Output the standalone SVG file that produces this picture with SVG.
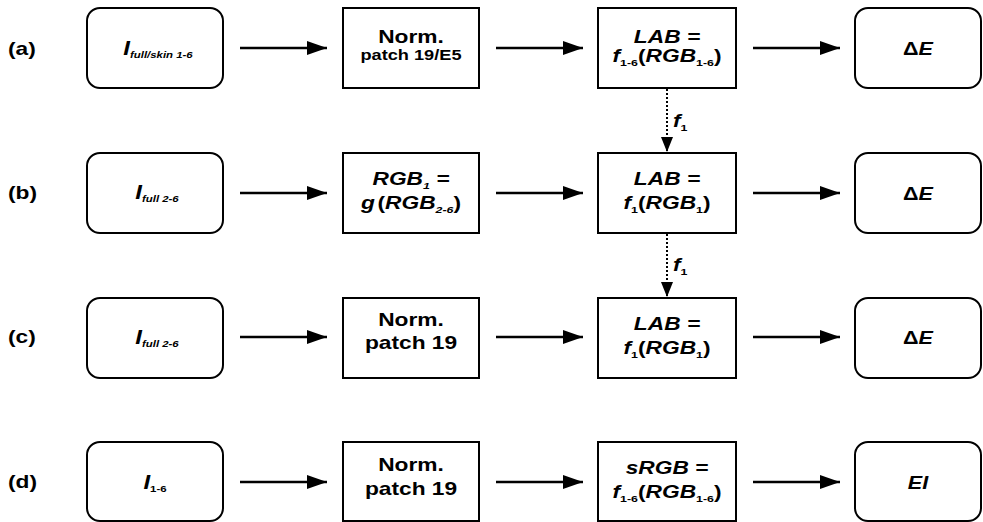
<svg xmlns="http://www.w3.org/2000/svg" width="983" height="522" viewBox="0 0 983 522">
  <defs>
    <marker id="arrow" markerWidth="20" markerHeight="14" refX="20" refY="7" orient="auto" markerUnits="userSpaceOnUse">
      <path d="M0,0 L20,7 L0,14 Z" fill="#000"/>
    </marker>
    <marker id="arrow-small" markerWidth="12" markerHeight="15" refX="6" refY="15" orient="0" markerUnits="userSpaceOnUse">
      <path d="M0,0 L6,15 L12,0 Z" fill="#000"/>
    </marker>
  </defs>
  <style>
    .box { fill: #fff; stroke: #000; stroke-width: 2; }
    .txt { font-family: "Liberation Sans", Arial, sans-serif; font-weight: bold; fill: #000; }
    .lbl { font-size: 17.5px; }
    .main { font-size: 17.5px; text-anchor: middle; }
    .small { font-size: 14px; }
    .big { font-size: 18px; }
    .cap { font-size: 20px; }
    .it { font-style: italic; }
    .up { font-style: normal; }
    .sub { font-size: 9.5px; }
    .flow { stroke: #000; stroke-width: 2.5; fill: none; marker-end: url(#arrow); }
    .dot { stroke: #000; stroke-width: 2; stroke-dasharray: 2 2; fill: none; marker-end: url(#arrow-small); }
  </style>
  <rect width="983" height="522" fill="#fff"/>

  <!-- row labels -->
  <g id="labels" class="txt lbl">
    <text transform="translate(8 0) scale(1.3 1)" x="0" y="55">(a)</text>
    <text transform="translate(8 0) scale(1.3 1)" x="0" y="199">(b)</text>
    <text transform="translate(8 0) scale(1.3 1)" x="0" y="343">(c)</text>
    <text transform="translate(8 0) scale(1.3 1)" x="0" y="488">(d)</text>
  </g>

  <!-- connectors -->
  <g id="connectors">
    <line class="flow" x1="240" y1="48" x2="327" y2="48"/>
    <line class="flow" x1="496" y1="48" x2="583" y2="48"/>
    <line class="flow" x1="753" y1="48" x2="840" y2="48"/>

    <line class="flow" x1="240" y1="193" x2="327" y2="193"/>
    <line class="flow" x1="496" y1="193" x2="583" y2="193"/>
    <line class="flow" x1="753" y1="193" x2="840" y2="193"/>

    <line class="flow" x1="240" y1="337" x2="327" y2="337"/>
    <line class="flow" x1="496" y1="337" x2="583" y2="337"/>
    <line class="flow" x1="753" y1="337" x2="840" y2="337"/>

    <line class="flow" x1="240" y1="482" x2="327" y2="482"/>
    <line class="flow" x1="496" y1="482" x2="583" y2="482"/>
    <line class="flow" x1="753" y1="482" x2="840" y2="482"/>

    <line class="dot" x1="667" y1="89" x2="667" y2="152"/>
    <line class="dot" x1="667" y1="234" x2="667" y2="297"/>
    <text class="txt lbl it" transform="translate(673 0) scale(1.3 1)" x="0" y="127">f<tspan class="sub up" dy="4">1</tspan></text>
    <text class="txt lbl it" transform="translate(673 0) scale(1.3 1)" x="0" y="271">f<tspan class="sub up" dy="4">1</tspan></text>
  </g>

  <!-- row (a) -->
  <g id="a-input">
    <rect class="box" x="87" y="8" width="136" height="80" rx="13"/>
    <text class="txt main" transform="translate(158 0) scale(1.2 1)" x="0" y="55"><tspan class="it cap">I</tspan><tspan class="sub it" dy="3">full/skin 1-6</tspan></text>
  </g>
  <g id="a-norm">
    <rect class="box" x="343" y="8" width="136" height="80"/>
    <text class="txt main" transform="translate(411 0) scale(1.3 1)" x="0" y="43">Norm.</text>
    <text class="txt main small" transform="translate(411 0) scale(1.3 1)" x="0" y="60">patch 19/E5</text>
  </g>
  <g id="a-lab">
    <rect class="box" x="598" y="8" width="138" height="80"/>
    <text class="txt main it" transform="translate(667 0) scale(1.3 1)" x="0" y="43">LAB =</text>
    <text class="txt main" transform="translate(667 0) scale(1.3 1)" x="0" y="62"><tspan class="it">f</tspan><tspan class="sub" dy="4">1-6</tspan><tspan dy="-4">(</tspan><tspan class="it">RGB</tspan><tspan class="sub" dy="4">1-6</tspan><tspan dy="-4">)</tspan></text>
  </g>
  <g id="a-de">
    <rect class="box" x="855" y="8" width="126" height="80" rx="13"/>
    <text class="txt main big" transform="translate(918 0) scale(1.2 1)" x="0" y="55">Δ<tspan class="it">E</tspan></text>
  </g>

  <!-- row (b) -->
  <g id="b-input">
    <rect class="box" x="87" y="153" width="136" height="80" rx="13"/>
    <text class="txt main" transform="translate(157 0) scale(1.2 1)" x="0" y="199"><tspan class="it cap">I</tspan><tspan class="sub it" dy="3">full 2-6</tspan></text>
  </g>
  <g id="b-rgb">
    <rect class="box" x="343" y="153" width="136" height="80"/>
    <text class="txt main it" transform="translate(411 0) scale(1.3 1)" x="0" y="185">RGB<tspan class="sub" dy="4">1</tspan><tspan dy="-4"> =</tspan></text>
    <text class="txt main it" transform="translate(411 0) scale(1.3 1)" x="0" y="209">g<tspan class="up" dx="2">(</tspan>RGB<tspan class="sub" dy="4">2-6</tspan><tspan dy="-4" class="up">)</tspan></text>
  </g>
  <g id="b-lab">
    <rect class="box" x="598" y="153" width="138" height="80"/>
    <text class="txt main it" transform="translate(667 0) scale(1.3 1)" x="0" y="185">LAB =</text>
    <text class="txt main" transform="translate(667 0) scale(1.3 1)" x="0" y="209"><tspan class="it">f</tspan><tspan class="sub" dy="4">1</tspan><tspan dy="-4">(</tspan><tspan class="it">RGB</tspan><tspan class="sub" dy="4">1</tspan><tspan dy="-4">)</tspan></text>
  </g>
  <g id="b-de">
    <rect class="box" x="855" y="153" width="126" height="80" rx="13"/>
    <text class="txt main big" transform="translate(918 0) scale(1.2 1)" x="0" y="200">Δ<tspan class="it">E</tspan></text>
  </g>

  <!-- row (c) -->
  <g id="c-input">
    <rect class="box" x="87" y="298" width="136" height="80" rx="13"/>
    <text class="txt main" transform="translate(157 0) scale(1.2 1)" x="0" y="344"><tspan class="it cap">I</tspan><tspan class="sub it" dy="3">full 2-6</tspan></text>
  </g>
  <g id="c-norm">
    <rect class="box" x="343" y="298" width="136" height="80"/>
    <text class="txt main" transform="translate(411 0) scale(1.3 1)" x="0" y="326">Norm.</text>
    <text class="txt main" transform="translate(411 0) scale(1.3 1)" x="0" y="349">patch 19</text>
  </g>
  <g id="c-lab">
    <rect class="box" x="598" y="298" width="138" height="80"/>
    <text class="txt main it" transform="translate(667 0) scale(1.3 1)" x="0" y="330">LAB =</text>
    <text class="txt main" transform="translate(667 0) scale(1.3 1)" x="0" y="354"><tspan class="it">f</tspan><tspan class="sub" dy="4">1</tspan><tspan dy="-4">(</tspan><tspan class="it">RGB</tspan><tspan class="sub" dy="4">1</tspan><tspan dy="-4">)</tspan></text>
  </g>
  <g id="c-de">
    <rect class="box" x="855" y="298" width="126" height="80" rx="13"/>
    <text class="txt main big" transform="translate(918 0) scale(1.2 1)" x="0" y="344">Δ<tspan class="it">E</tspan></text>
  </g>

  <!-- row (d) -->
  <g id="d-input">
    <rect class="box" x="87" y="442" width="136" height="79" rx="13"/>
    <text class="txt main" transform="translate(155 0) scale(1.2 1)" x="0" y="489"><tspan class="it cap">I</tspan><tspan class="sub" dy="3">1-6</tspan></text>
  </g>
  <g id="d-norm">
    <rect class="box" x="343" y="442" width="136" height="79"/>
    <text class="txt main" transform="translate(411 0) scale(1.3 1)" x="0" y="471">Norm.</text>
    <text class="txt main" transform="translate(411 0) scale(1.3 1)" x="0" y="495">patch 19</text>
  </g>
  <g id="d-srgb">
    <rect class="box" x="598" y="442" width="138" height="79"/>
    <text class="txt main it" transform="translate(667 0) scale(1.3 1)" x="0" y="474">sRGB =</text>
    <text class="txt main" transform="translate(667 0) scale(1.3 1)" x="0" y="498"><tspan class="it">f</tspan><tspan class="sub" dy="4">1-6</tspan><tspan dy="-4">(</tspan><tspan class="it">RGB</tspan><tspan class="sub" dy="4">1-6</tspan><tspan dy="-4">)</tspan></text>
  </g>
  <g id="d-ei">
    <rect class="box" x="855" y="442" width="126" height="79" rx="13"/>
    <text class="txt main it big" transform="translate(918 0) scale(1.2 1)" x="0" y="489">EI</text>
  </g>
</svg>
